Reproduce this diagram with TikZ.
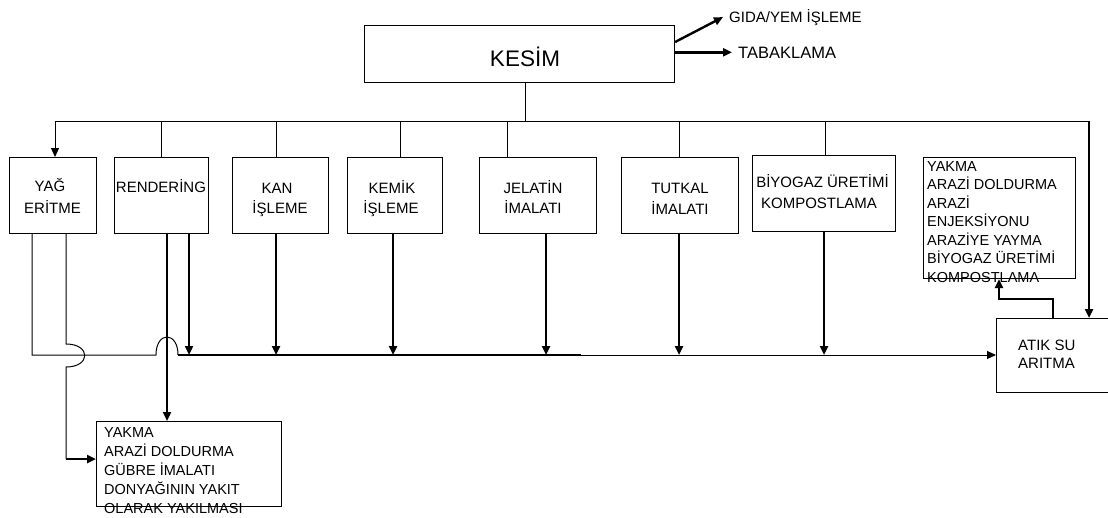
\documentclass[tikz,border=0pt]{standalone}
\usepackage{fontspec}
\setmainfont{Liberation Sans}
\usetikzlibrary{arrows.meta}
\begin{document}
\begin{tikzpicture}[x=1pt,y=-1pt,
  box/.style={draw, line width=1.1pt, inner sep=0pt, anchor=north west},
  ln/.style={line width=1pt},
  lnb/.style={line width=2.4pt},
  arr/.style={-{Triangle[length=9pt,width=8pt]}},
  lbl/.style={inner sep=0pt, anchor=base, font=\fontsize{15}{18}\selectfont},
  lst/.style={inner sep=0pt, anchor=base west, font=\fontsize{14.5}{17}\selectfont}]
\useasboundingbox (0,0) rectangle (1108,517);
\clip (0,0) rectangle (1108,517);

% boxes
\node[box, minimum width=310pt, minimum height=57pt] (kesim) at (364,25) {};
\node[box, minimum width=87pt, minimum height=76pt] (yag) at (9,157) {};
\node[box, minimum width=94pt, minimum height=76pt] (rend) at (114,157) {};
\node[box, minimum width=96pt, minimum height=76pt] (kan) at (232,157) {};
\node[box, minimum width=95pt, minimum height=76pt] (kemik) at (347,157) {};
\node[box, minimum width=117pt, minimum height=76pt] (jel) at (479,157) {};
\node[box, minimum width=117pt, minimum height=76pt] (tut) at (621,157) {};
\node[box, minimum width=143pt, minimum height=76pt] (bio) at (752,155) {};
\node[box, minimum width=152pt, minimum height=121pt] (rlist) at (923,157) {};
\node[box, minimum width=125pt, minimum height=74pt] (atik) at (996,318) {};
\node[box, minimum width=185pt, minimum height=85pt] (blist) at (96,421) {};

% labels
\node[lbl, font=\fontsize{22.5}{26}\selectfont] (kesimt) at (525,66) {KESİM};
\node[inner sep=0pt, anchor=base west, font=\fontsize{15}{18}\selectfont] (gida) at (729,22) {GIDA/YEM İŞLEME};
\node[inner sep=0pt, anchor=base west, font=\fontsize{16.5}{19}\selectfont] (tab) at (738,58) {TABAKLAMA};
\node[lbl] (yag1) at (50,191) {YAĞ};
\node[lbl] (yag2) at (52.5,213) {ERİTME};
\node[lbl] (rend1) at (161,192) {RENDERİNG};
\node[lbl] (kan1) at (277,193) {KAN};
\node[lbl] (kan2) at (280,213) {İŞLEME};
\node[lbl] (kemik1) at (392,193) {KEMİK};
\node[lbl] (kemik2) at (391,213) {İŞLEME};
\node[lbl] (jel1) at (533,193) {JELATİN};
\node[lbl] (jel2) at (533,213) {İMALATI};
\node[lbl] (tut1) at (680,193) {TUTKAL};
\node[lbl] (tut2) at (680,214) {İMALATI};
\node[lbl] (bio1) at (822.5,187) {BİYOGAZ ÜRETİMİ};
\node[lbl] (bio2) at (819,208) {KOMPOSTLAMA};
\foreach \t [count=\i from 0] in {YAKMA,ARAZİ DOLDURMA,ARAZİ,ENJEKSİYONU,ARAZİYE YAYMA,BİYOGAZ ÜRETİMİ,KOMPOSTLAMA}
  \node[lst] (r\i) at (927,171+18.5*\i) {\t};
\foreach \t [count=\i from 0] in {YAKMA,ARAZİ DOLDURMA,GÜBRE İMALATI,DONYAĞININ YAKIT,OLARAK YAKILMASI}
  \node[lst] (b\i) at (104,437+19*\i) {\t};
\node[lst, font=\fontsize{15}{18}\selectfont] (atik1) at (1018,350) {ATIK SU};
\node[lst, font=\fontsize{15}{18}\selectfont] (atik2) at (1018,368) {ARITMA};

% KESIM outputs
\draw[lnb, arr] (kesim.east |- 0,42) -- ([xshift=-6pt]gida.west);
\draw[lnb, arr] (kesim.east |- tab.west) -- ([xshift=-6pt]tab.west);

% upper bus
\coordinate (k0) at (525,121);
\coordinate (bl) at (55,121);
\coordinate (br) at (1089,121);
\draw[ln] (kesim.south -| k0) -- (k0);
\draw[ln] (bl) -- (br);
\draw[ln, arr] (bl) -- (bl |- yag.north);
\foreach \x/\n in {161/rend,276/kan,400/kemik,507/jel,679/tut,825/bio}
  \draw[ln] (\x,121) -- (\x,0 |- \n.north);
\draw[lnb, arr] (br) -- (br |- atik.north);

% down arrows to lower bus
\foreach \x/\n in {189/rend,276/kan,393/kemik,546/jel,679/tut,824/bio}
  \draw[lnb, arr] (\x,0 |- \n.south) -- (\x,355);
\draw[lnb, arr] (167,0 |- rend.south) -- (167,0 |- blist.north);

% lower bus
\coordinate (lb1) at (178,355);
\coordinate (lb2) at (581,355);
\draw[lnb] (lb1) -- (lb2);
\draw[ln, arr] (lb2) -- (lb2 -| atik.west);

% YAG ERITME outputs with hops
\draw[ln] (32,0 |- yag.south) -- (32,355) -- (156,355) .. controls (156,331) and (178,331) .. (lb1);
\coordinate (yb) at (66,459);
\draw[ln] (66,0 |- yag.south) -- (66,344) .. controls (91,344) and (91,367) .. (66,367) -- (yb);
\draw[lnb, arr] (yb) -- (yb -| blist.west);

% ATIK SU to list
\draw[lnb, arr] (1053,0 |- atik.north) -- (1053,299) -- (999,299) -- (999,0 |- rlist.south);
\end{tikzpicture}
\end{document}
